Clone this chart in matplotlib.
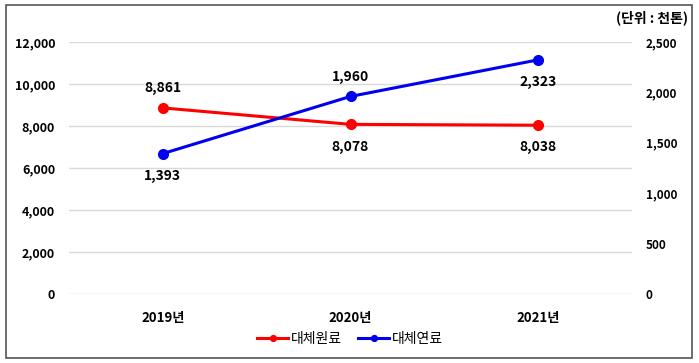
import matplotlib.pyplot as plt
from matplotlib.patches import Rectangle

plt.rcParams['font.family'] = ['Noto Sans CJK KR', 'DejaVu Sans']

years = ['2019년', '2020년', '2021년']
raw = [8861, 8078, 8038]      # 대체원료 (left axis)
fuel = [1393, 1960, 2323]     # 대체연료 (right axis)

fig = plt.figure(figsize=(6.99, 3.63), dpi=100)
ax = fig.add_axes([69/699, 1-294/363, (632-69)/699, (294-42)/363])
ax2 = ax.twinx()

x = list(range(len(years)))
l1, = ax.plot(x, raw, color='#ff0000', lw=2.2, marker='o', ms=7, label='대체원료', zorder=3)
l2, = ax2.plot(x, fuel, color='#0000ee', lw=2.2, marker='o', ms=7, label='대체연료', zorder=3)

ax.set_xlim(-0.5, 2.5)
ax.set_ylim(0, 12000)
ax2.set_ylim(0, 2500)
ax.set_yticks(range(0, 12001, 2000))
ax2.set_yticks(range(0, 2501, 500))
ax.set_yticklabels([f'{v:,}' for v in range(0, 12001, 2000)], fontsize=9, fontweight='bold')
ax2.set_yticklabels([f'{v:,}' for v in range(0, 2501, 500)], fontsize=8.5, fontweight='bold')
ax.set_xticks(x)
ax.set_xticklabels(years, fontsize=9.5, fontweight='bold')
ax.grid(axis='y', color='#d9d9d9', lw=1)
ax.set_axisbelow(True)
for a in (ax, ax2):
    for s in a.spines.values():
        s.set_visible(False)
ax.tick_params(length=0, pad=10)
ax.tick_params(axis='x', pad=12)
ax2.tick_params(length=0, pad=10)

# data labels
raw_off = [14, -16, -16]
fuel_off = [-16, 14, -16]
for i in x:
    ax.annotate(f'{raw[i]:,}', (i, raw[i]), xytext=(0, raw_off[i]), textcoords='offset points',
                ha='center', va='center', fontsize=10, fontweight='bold')
    ax2.annotate(f'{fuel[i]:,}', (i, fuel[i]), xytext=(0, fuel_off[i]), textcoords='offset points',
                 ha='center', va='center', fontsize=10, fontweight='bold')

fig.text(688/699, 1-18/363, '(단위 : 천톤)', ha='right', va='center', fontsize=10, fontweight='bold')

fig.legend(handles=[l1, l2], loc='center', bbox_to_anchor=(350/699, 1-339/363), ncol=2,
           frameon=False, fontsize=10, handlelength=2.2, handletextpad=0.2, columnspacing=1.2,
           markerscale=0.6)

fig.patches.append(Rectangle((6/699, 5/363), 686/699, 353/363, transform=fig.transFigure,
                             fill=False, edgecolor='#555555', lw=1.2))

fig.savefig('out.png', dpi=100)
